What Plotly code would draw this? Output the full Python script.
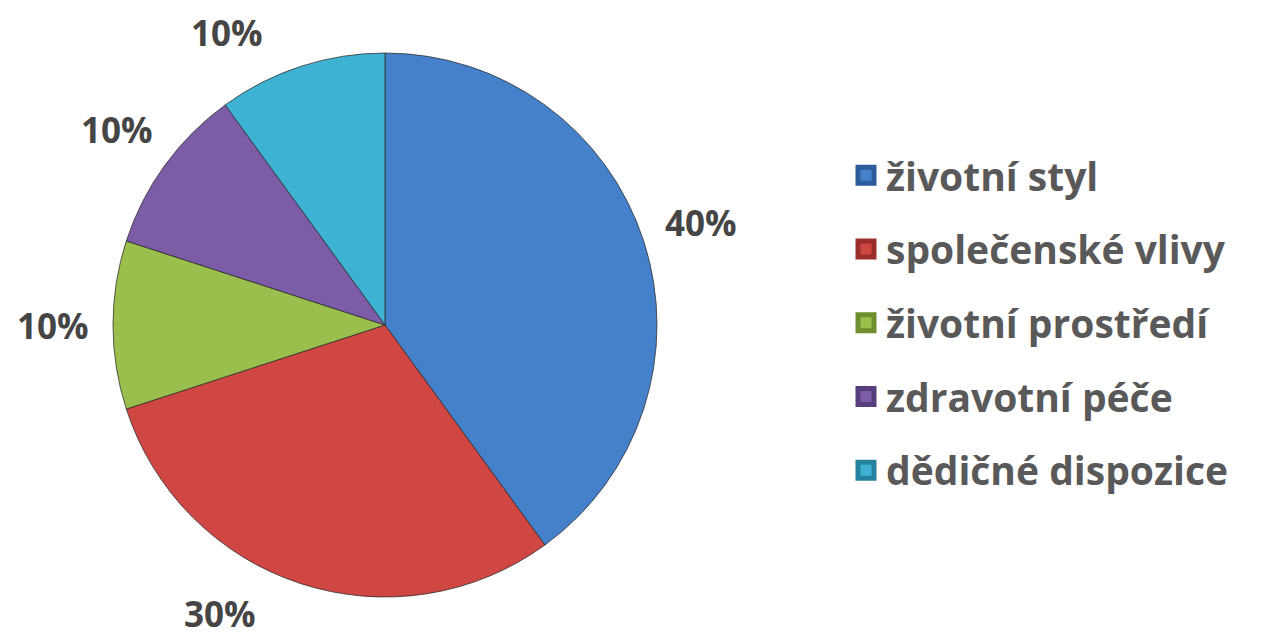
import math
import plotly.graph_objects as go

categories = ["životní styl", "společenské vlivy", "životní prostředí", "zdravotní péče", "dědičné dispozice"]
values = [40, 30, 10, 10, 10]
colors = ["#4580CB", "#CF4642", "#9BBF4C", "#7C5CA6", "#3DB2D2"]
edge_colors = ["#2D5C9A", "#9A2E2B", "#6E8E30", "#563D7C", "#2782A0"]

# the page body has an 8px margin, so the figure is drawn at (8, 8)
OX, OY = 8, 8
W, H = 1260, 630
# pie placement (window pixels)
PIE_L, PIE_R, PIE_T, PIE_B = 113, 657, 53, 597
LABEL_DIST = 1.22          # label centre distance, in pie radii
LABEL_Y_MIN, LABEL_Y_MAX = 33, 613
FONT = "Open Sans"
LEG_COLOR = "#595959"
LBL_COLOR = "#454545"
LEG_FS = 39
LBL_FS = 35


def fx(px):
    return (px - OX) / W


def fy(py):
    return 1 - (py - OY) / H


fig = go.Figure()
fig.add_trace(go.Pie(
    labels=categories, values=values, sort=False, direction="clockwise", rotation=0,
    marker=dict(colors=colors, line=dict(color="rgba(40,40,40,0.75)", width=1)),
    textinfo="none", showlegend=False, hoverinfo="label+percent",
    domain=dict(x=[fx(PIE_L), fx(PIE_R)], y=[fy(PIE_B), fy(PIE_T)]),
))

# legend entries (library legend, one group per category for spacing)
for i, (c, col, ec) in enumerate(zip(categories, colors, edge_colors)):
    fig.add_trace(go.Scatter(
        x=[None], y=[None], mode="markers", name=c, legendgroup=f"g{i}",
        marker=dict(symbol="square", size=28, color=col, line=dict(color=ec, width=5)),
        showlegend=True, hoverinfo="skip",
    ))

# percentage labels, positioned from the data around the pie
cx = (PIE_L + PIE_R) / 2
cy = (PIE_T + PIE_B) / 2
r = min(PIE_R - PIE_L, PIE_B - PIE_T) / 2
d = r * LABEL_DIST
total = sum(values)
cum = 0
annotations = []
for v in values:
    mid = (cum + v / 2) / total * 2 * math.pi
    cum += v
    s, c = math.sin(mid), math.cos(mid)
    px = cx + d * s
    py = cy - d * c
    if py < LABEL_Y_MIN or py > LABEL_Y_MAX:
        py = min(max(py, LABEL_Y_MIN), LABEL_Y_MAX)
        dy = py - cy
        px = cx + math.copysign(math.sqrt(max(d * d - dy * dy, 0)), s)
    annotations.append(dict(
        x=fx(px), y=fy(py), xref="paper", yref="paper", showarrow=False,
        text=f"<b>{round(v / total * 100)}%</b>", xanchor="center", yanchor="middle",
        borderpad=0,
        font=dict(family=FONT, size=LBL_FS, color=LBL_COLOR),
    ))

fig.update_layout(
    width=W, height=H, margin=dict(l=0, r=0, t=0, b=0),
    paper_bgcolor="white", plot_bgcolor="white",
    xaxis=dict(visible=False), yaxis=dict(visible=False),
    font=dict(family=FONT, size=LEG_FS, color=LEG_COLOR, weight="bold"),
    legend=dict(x=fx(846), xanchor="left", y=fy(323), yanchor="middle",
                font=dict(family=FONT, size=LEG_FS, color=LEG_COLOR, weight="bold"),
                tracegroupgap=20, bgcolor="rgba(0,0,0,0)", itemclick=False),
    annotations=annotations,
    shapes=[dict(type="rect", xref="paper", yref="paper", x0=fx(1265), x1=1, y0=0, y1=1,
                 fillcolor="#D6E9F6", line=dict(width=0), layer="below")],
)

fig.write_html("out.html")
